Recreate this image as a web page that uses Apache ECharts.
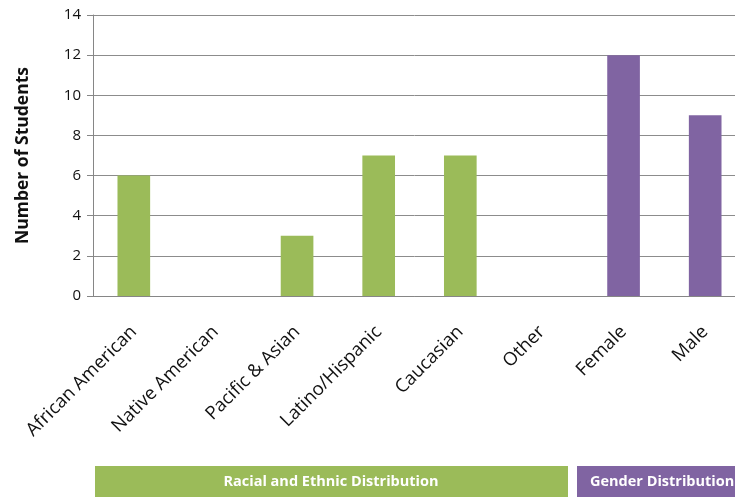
<!DOCTYPE html>
<html><head><meta charset="utf-8">
<script src="https://cdn.jsdelivr.net/npm/echarts@6/dist/echarts.min.js"></script>
<style>html,body{margin:0;padding:0;background:#fff}#c{width:735px;height:497px}</style>
</head><body><div id="c"></div>
<script>
const categories = ["African American","Native American","Pacific & Asian","Latino/Hispanic","Caucasian","Other","Female","Male"];
const values = [6,0,3,7,7,0,12,9];
const groupNames = ["Racial and Ethnic Distribution","Gender Distribution"];
const groupOf = [0,0,0,0,0,0,1,1];
const colors = ["#9BBB59","#8064A2"];
const yTicks = {min:0,max:14,interval:2};

const font = "'Open Sans', 'Liberation Sans', sans-serif";
const chart = echarts.init(document.getElementById('c'));
chart.setOption({
  animation:false,
  grid:{left:93,width:653,top:15,height:281,containLabel:false,outerBoundsMode:'none'},
  xAxis:{type:'category',data:categories,
    axisLine:{lineStyle:{color:'#868686'}},
    axisTick:{show:false},
    axisLabel:{rotate:45,interval:0,color:'#111',fontSize:18.5,fontFamily:font,margin:33}},
  yAxis:{type:'value',min:yTicks.min,max:yTicks.max,interval:yTicks.interval,
    name:'Number of Students',nameLocation:'middle',nameGap:61,
    nameTextStyle:{fontWeight:'bold',fontSize:17.5,color:'#111',fontFamily:font},
    axisLine:{show:true,lineStyle:{color:'#868686'}},
    axisTick:{show:true,length:6,lineStyle:{color:'#868686'}},
    axisLabel:{color:'#111',fontSize:15,fontFamily:font,margin:12},
    splitLine:{lineStyle:{color:'#8c8c8c'}}},
  series:[{type:'bar',barWidth:'40%',
    data:values.map((v,i)=>({value:v,itemStyle:{color:colors[groupOf[i]]}}))}],
  graphic:[
    {type:'rect',shape:{x:95,y:466,width:473,height:31},style:{fill:colors[0]}},
    {type:'text',x:331,y:482,style:{text:groupNames[0],fill:'#fff',font:'bold 14.5px '+font,textAlign:'center',textVerticalAlign:'middle'}},
    {type:'rect',shape:{x:577,y:466,width:170,height:31},style:{fill:colors[1]}},
    {type:'text',x:590,y:482,style:{text:groupNames[1],fill:'#fff',font:'bold 14.5px '+font,textAlign:'left',textVerticalAlign:'middle'}}
  ]
});
</script></body></html>
